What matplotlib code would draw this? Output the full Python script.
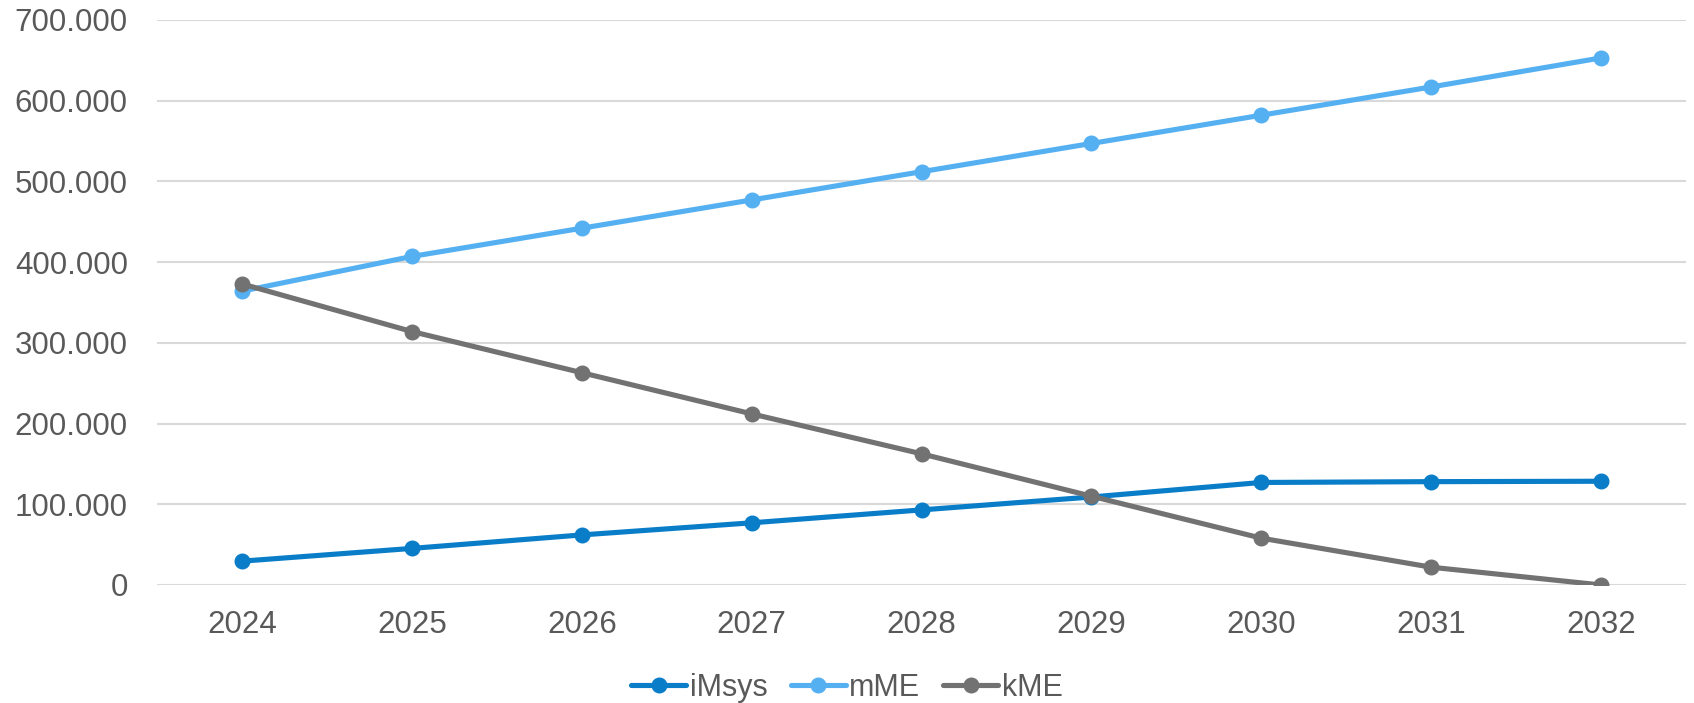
import matplotlib.pyplot as plt
from matplotlib.ticker import FuncFormatter

plt.rcParams['font.family'] = ['Liberation Sans', 'DejaVu Sans']

# === Data ===
years = [2024, 2025, 2026, 2027, 2028, 2029, 2030, 2031, 2032]
imsys = [29500, 45300, 62000, 77000, 93000, 109000, 127000, 128000, 128500]
mme = [364000, 407000, 442000, 477000, 512000, 547000, 582000, 617000, 653000]
kme = [373000, 314000, 263000, 212000, 162500, 110000, 58000, 22000, 0]

series = [('iMsys', imsys, '#0A7DC8'), ('mME', mme, '#55B0F2'), ('kME', kme, '#727272')]
text_col = '#595959'

# === Plot ===
fig = plt.figure(figsize=(16.94, 7.03), dpi=100)
ax = fig.add_axes([0.0927, 0.1679, 0.9026, 0.8037])

x = list(range(len(years)))
for name, vals, col in series:
    ax.plot(x, vals, color=col, lw=3.7, marker='o', ms=10.5, label=name,
            solid_capstyle='round')

ax.set_xlim(-0.5, len(years) - 0.5)
ax.set_ylim(0, 700000)
ax.set_yticks(range(0, 700001, 100000))
ax.yaxis.set_major_formatter(FuncFormatter(lambda v, p: f"{int(v):,}".replace(',', '.')))
ax.set_xticks(x)
ax.set_xticklabels([str(y) for y in years])

ax.grid(axis='y', color='#D9D9D9', lw=1.5)
ax.set_axisbelow(True)
for s in ax.spines.values():
    s.set_visible(False)
ax.tick_params(axis='both', length=0, labelsize=22.5, labelcolor=text_col)
ax.tick_params(axis='y', pad=21)
ax.tick_params(axis='x', pad=18)

ax.legend(loc='center', bbox_to_anchor=(0.5, (703 - 688) / 703), bbox_transform=fig.transFigure,
          ncol=3, frameon=False, fontsize=22, labelcolor=text_col,
          handlelength=1.8, handletextpad=0.12, columnspacing=0.75)

fig.savefig('out.png', dpi=100)
